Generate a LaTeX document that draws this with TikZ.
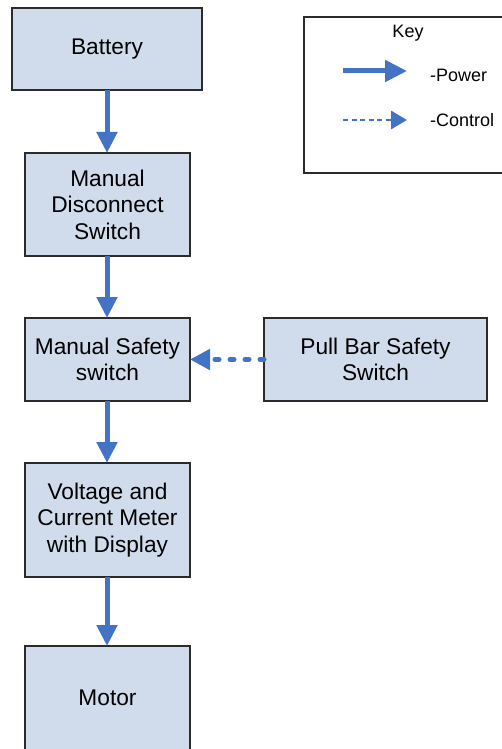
\documentclass[tikz,border=0pt]{standalone}
\usepackage{fontspec}
\setmainfont{Liberation Sans}
\usetikzlibrary{arrows.meta}
\definecolor{boxfill}{HTML}{D0DBEC}
\definecolor{boxline}{HTML}{2B2B2B}
\definecolor{flow}{HTML}{4472C4}
\tikzset{
  block/.style={draw=boxline, line width=1.2pt, fill=boxfill, inner sep=0pt, outer sep=0pt,
    align=center, font=\fontsize{22.7}{26.5}\selectfont},
  power/.style={draw=flow, line width=5pt, -{Triangle[length=21pt,width=20pt]}},
  control/.style={draw=flow, line width=5pt, line cap=round, dash pattern=on 4pt off 11pt,
    -{Triangle[length=20pt,width=20pt]}},
  keypower/.style={draw=flow, line width=5pt, -{Triangle[length=22pt,width=21pt]}},
  keycontrol/.style={draw=flow, line width=2.8pt, dash pattern=on 5pt off 3.5pt,
    -{Triangle[length=16pt,width=18pt]}},
  keytext/.style={inner sep=0pt, font=\fontsize{18}{21}\selectfont},
}
\begin{document}
\begin{tikzpicture}[x=1pt, y=-1pt]
  \useasboundingbox (0,0) rectangle (502,749);

  % signal chain blocks
  \node[block, minimum width=190pt, minimum height=82pt]  (bat)  at (107,49)    {Battery};
  \node[block, minimum width=165pt, minimum height=103pt] (disc) at (107.5,204.5) {Manual\\Disconnect\\Switch};
  \node[block, minimum width=165pt, minimum height=83pt]  (safe) at (107.5,359.5) {Manual Safety\\switch};
  \node[block, minimum width=223pt, minimum height=83pt]  (pull) at (375.5,359.5) {Pull Bar Safety\\Switch};
  \node[block, minimum width=165pt, minimum height=114pt] (meter) at (107.5,520) {Voltage and\\Current Meter\\with Display};
  \node[block, minimum width=165pt, minimum height=104pt] (motor) at (107.5,698) {Motor};

  % power flow
  \draw[power] (bat.south -| 107,0) -- (disc.north -| 107,0);
  \draw[power] (disc.south -| 107,0) -- (safe.north -| 107,0);
  \draw[power] (safe.south -| 107,0) -- (meter.north -| 107,0);
  \draw[power] (meter.south -| 107,0) -- (motor.north -| 107,0);

  % control signal
  \draw[control] (pull.west) -- (safe.east);

  % legend
  \node[draw=boxline, line width=1.2pt, fill=white, inner sep=0pt, minimum width=202pt,
        minimum height=156pt] (key) at (405,95) {};
  \node[keytext, anchor=base] (keytitle) at (408,38) {Key};
  \coordinate (p0) at (343,71);
  \coordinate (p1) at (407,71);
  \draw[keypower] (p0) -- (p1);
  \node[keytext, anchor=base west] (plab) at (430,82) {-Power};
  \coordinate (c0) at (343,120);
  \coordinate (c1) at (407,120);
  \draw[keycontrol] (c0) -- (c1);
  \node[keytext, anchor=base west] (clab) at (430,126) {-Control};
\end{tikzpicture}
\end{document}
